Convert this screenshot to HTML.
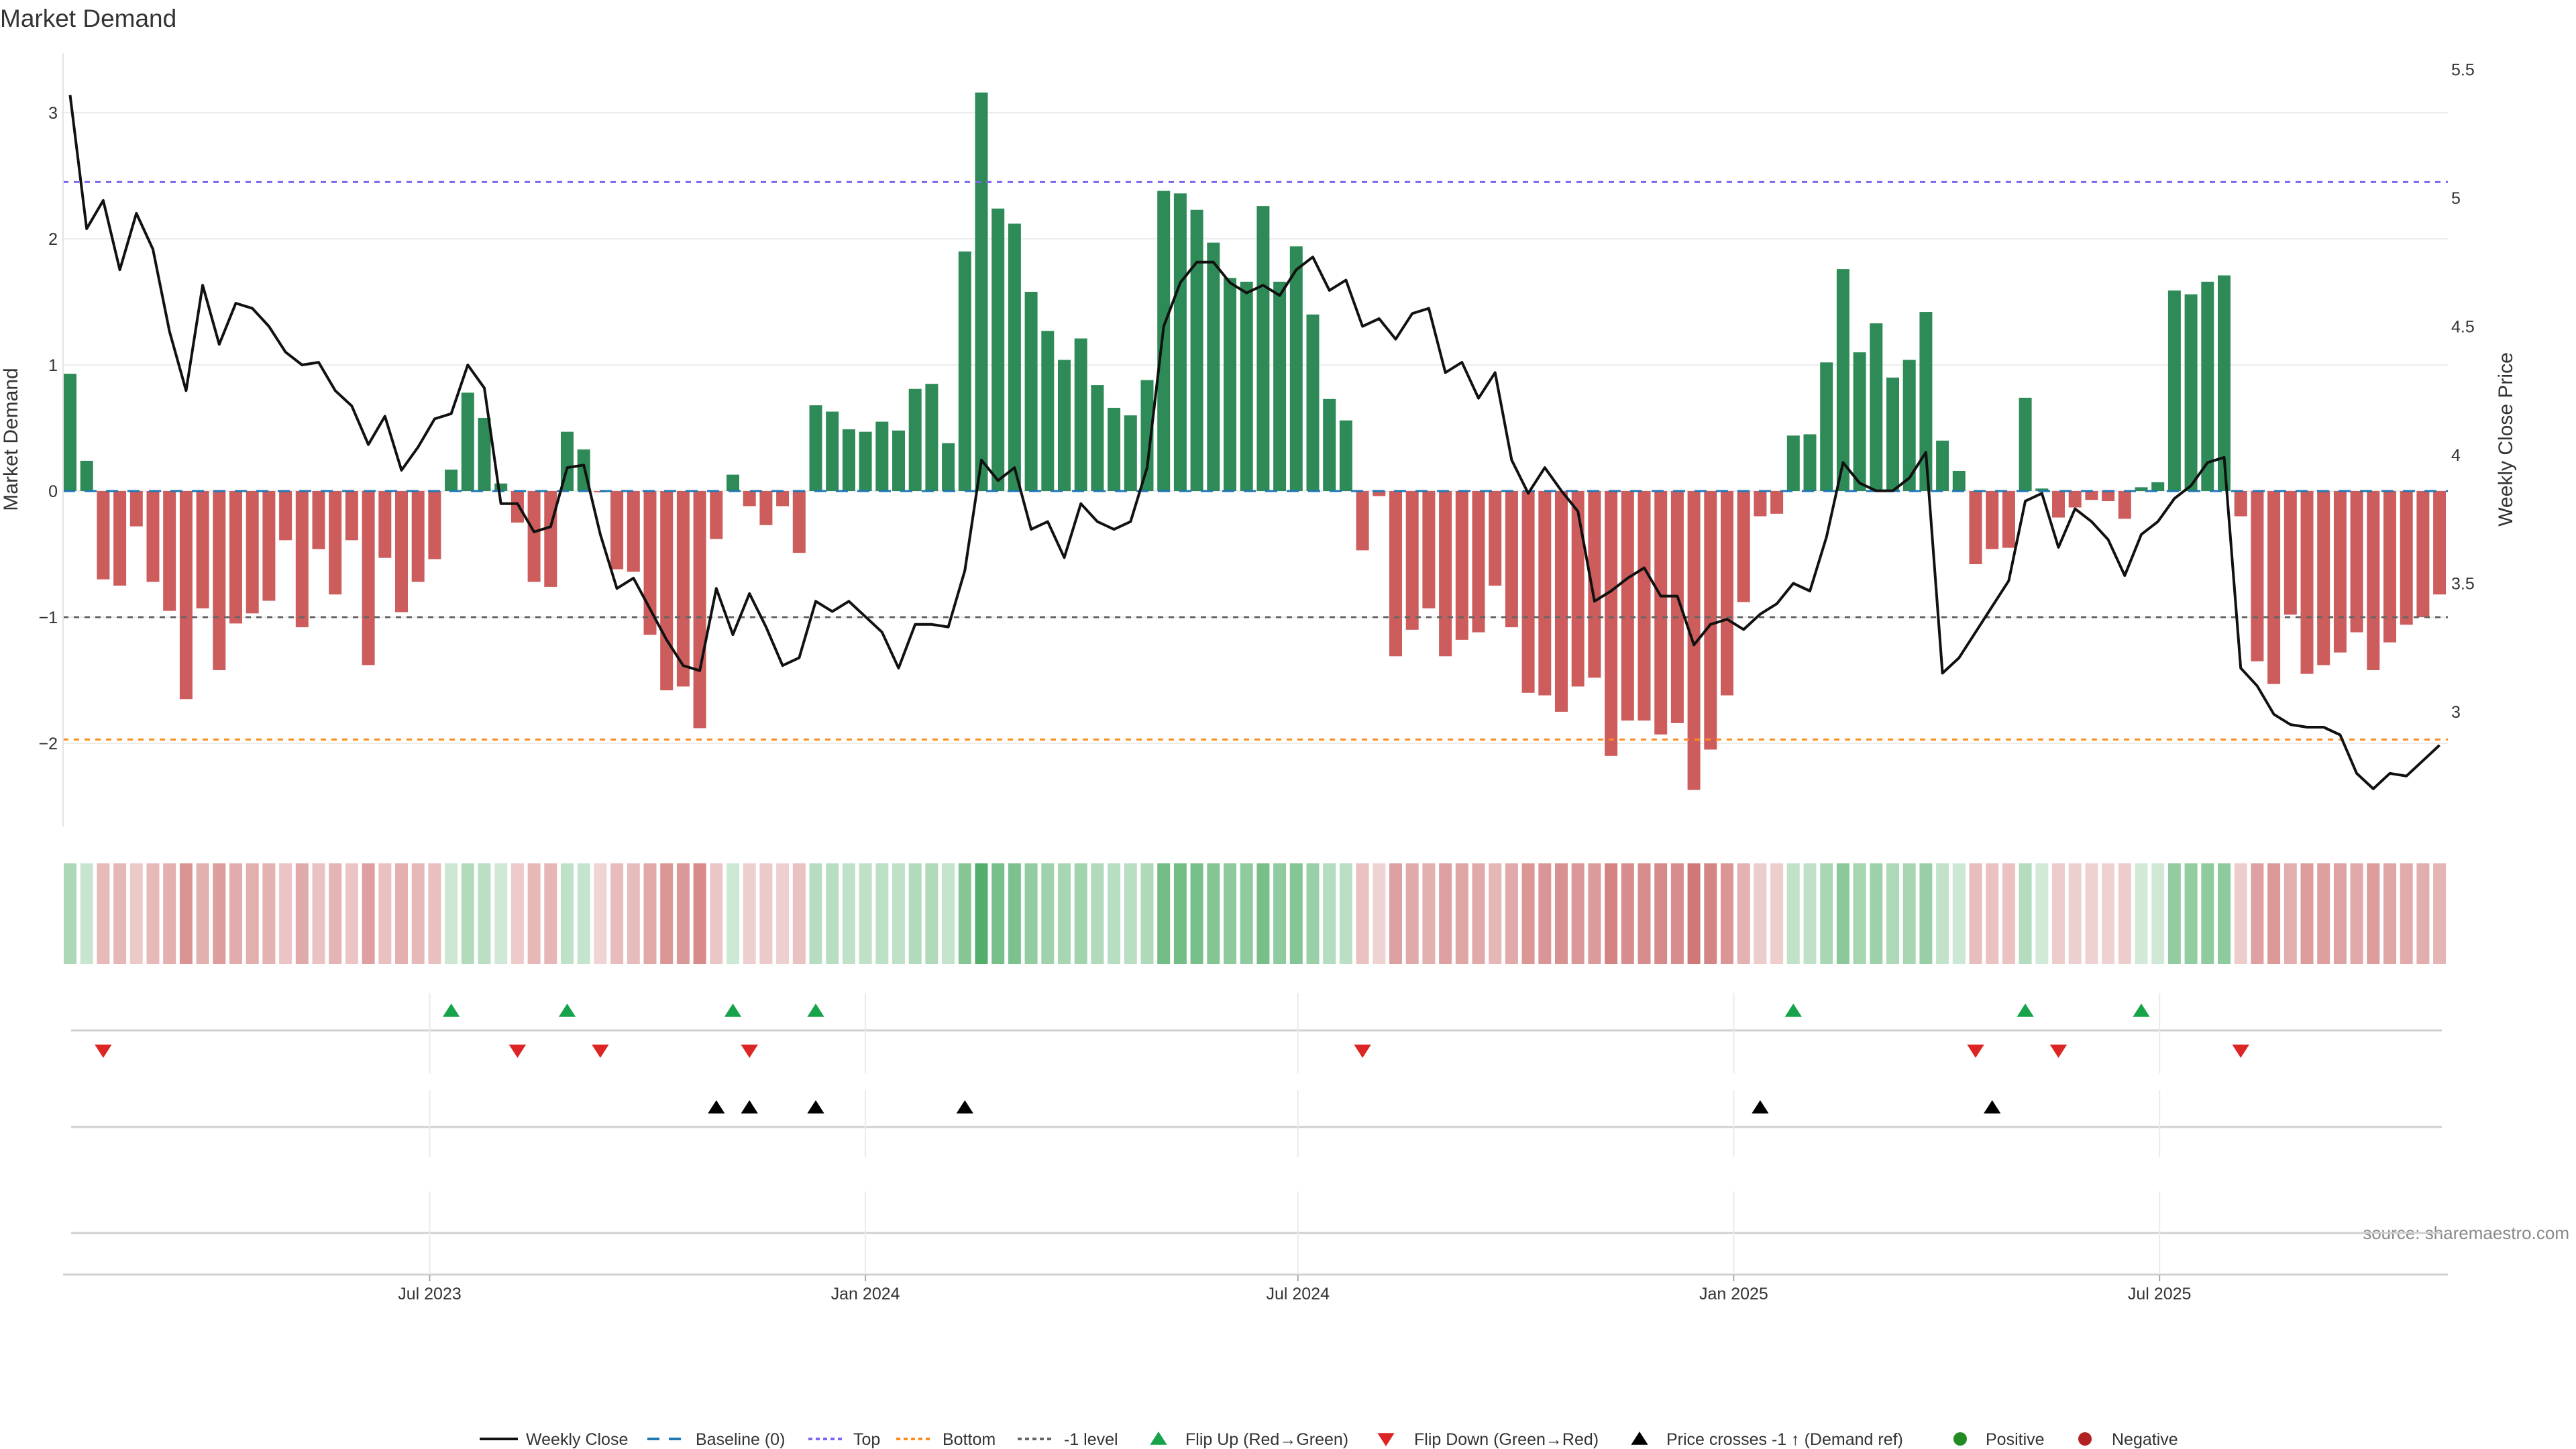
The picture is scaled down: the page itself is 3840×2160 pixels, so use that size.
<!DOCTYPE html>
<html><head><meta charset="utf-8"><style>
html,body{margin:0;padding:0;background:#fff;}
svg{display:block;font-family:"Liberation Sans","DejaVu Sans",sans-serif;}
</style></head><body>
<svg id="chart" width="3840" height="2160" viewBox="0 0 3840 2160" xmlns="http://www.w3.org/2000/svg">
<text x="0" y="40" font-size="37" fill="#333">Market Demand</text>
<text transform="translate(26,655) rotate(-90)" text-anchor="middle" font-size="30" fill="#333">Market Demand</text>
<text transform="translate(3745,655) rotate(-90)" text-anchor="middle" font-size="30" fill="#333">Weekly Close Price</text>
<text x="3830" y="1847" text-anchor="end" font-size="26" fill="#888">source: sharemaestro.com</text>
<g id="grid"></g><g id="bars"></g><g id="refs"></g><g id="line"></g><g id="heat"></g><g id="markers"></g><g id="axes"></g><g id="legend"></g>
</svg>
<script>
const demand=[0.93,0.24,-0.7,-0.75,-0.28,-0.72,-0.95,-1.65,-0.93,-1.42,-1.05,-0.97,-0.87,-0.39,-1.08,-0.46,-0.82,-0.39,-1.38,-0.53,-0.96,-0.72,-0.54,0.17,0.78,0.58,0.06,-0.25,-0.72,-0.76,0.47,0.33,-0.01,-0.62,-0.64,-1.14,-1.58,-1.55,-1.88,-0.38,0.13,-0.12,-0.27,-0.12,-0.49,0.68,0.63,0.49,0.47,0.55,0.48,0.81,0.85,0.38,1.9,3.16,2.24,2.12,1.58,1.27,1.04,1.21,0.84,0.66,0.6,0.88,2.38,2.36,2.23,1.97,1.69,1.66,2.26,1.66,1.94,1.4,0.73,0.56,-0.47,-0.04,-1.31,-1.1,-0.93,-1.31,-1.18,-1.12,-0.75,-1.08,-1.6,-1.62,-1.75,-1.55,-1.48,-2.1,-1.82,-1.82,-1.93,-1.84,-2.37,-2.05,-1.62,-0.88,-0.2,-0.18,0.44,0.45,1.02,1.76,1.1,1.33,0.9,1.04,1.42,0.4,0.16,-0.58,-0.46,-0.45,0.74,0.02,-0.21,-0.13,-0.07,-0.08,-0.22,0.03,0.07,1.59,1.56,1.66,1.71,-0.2,-1.35,-1.53,-0.98,-1.45,-1.38,-1.28,-1.12,-1.42,-1.2,-1.06,-1.0,-0.82];
const price=[5.40,4.88,4.99,4.72,4.94,4.80,4.48,4.25,4.66,4.43,4.59,4.57,4.50,4.40,4.35,4.36,4.25,4.19,4.04,4.15,3.94,4.03,4.14,4.16,4.35,4.26,3.81,3.81,3.70,3.72,3.95,3.96,3.69,3.48,3.52,3.40,3.28,3.18,3.16,3.48,3.30,3.46,3.33,3.18,3.21,3.43,3.39,3.43,3.37,3.31,3.17,3.34,3.34,3.33,3.55,3.98,3.90,3.95,3.71,3.74,3.60,3.81,3.74,3.71,3.74,3.95,4.50,4.67,4.75,4.75,4.67,4.63,4.66,4.62,4.72,4.77,4.64,4.68,4.50,4.53,4.45,4.55,4.57,4.32,4.36,4.22,4.32,3.98,3.85,3.95,3.86,3.78,3.43,3.47,3.52,3.56,3.45,3.45,3.26,3.34,3.36,3.32,3.38,3.42,3.50,3.47,3.68,3.97,3.89,3.86,3.86,3.91,4.01,3.15,3.21,3.31,3.41,3.51,3.82,3.85,3.64,3.79,3.74,3.67,3.53,3.69,3.74,3.83,3.88,3.97,3.99,3.17,3.10,2.99,2.95,2.94,2.94,2.91,2.76,2.70,2.76,2.75,2.81,2.87];
const flipUpIdx=[23,30,40,45,104,118,125];
const flipDownIdx=[2,27,32,41,78,115,120,131];
const crossIdx=[39,41,45,54,102,116];
const yTicks=[3,2,1,0,-1,-2];
const y2Ticks=[5.5,5,4.5,4,3.5,3];
const xTickPos=[21.7,48.0,74.1,100.4,126.1];
const xTickLabels=["Jul 2023","Jan 2024","Jul 2024","Jan 2025","Jul 2025"];
const topLevel=2.45, bottomLevel=-1.97, minusLevel=-1;

const NS="http://www.w3.org/2000/svg";
function mk(parent,tag,attrs,text){const e=document.createElementNS(NS,tag);for(const k in attrs)e.setAttribute(k,attrs[k]);if(text!==undefined)e.textContent=text;parent.appendChild(e);return e;}
const X0=104.5, PITCH=24.7, BW=19;
const xs=i=>X0+i*PITCH;
const ys=v=>732-v*188;
const y2s=p=>678-(p-4)*383;
const L=94,R=3649,T=79,B=1232;
const g=id=>document.getElementById(id);

// grid
yTicks.forEach(t=>{
 const l=mk(g('grid'),'line',{x1:L,x2:R,y1:ys(t),y2:ys(t),stroke:'#ececec','stroke-width':2});
 
 
 const tx=mk(g('axes'),'text',{x:86,y:ys(t)+9,'text-anchor':'end','font-size':25,fill:'#333'},t<0?'\u2212'+Math.abs(t):String(t));
 
 
});
y2Ticks.forEach(t=>{
 const tx=mk(g('axes'),'text',{x:3654,y:y2s(t)+9,'font-size':25,fill:'#333'},String(t));
 
 
});
const ax=mk(g('axes'),'line',{x1:L,x2:L,y1:T,y2:B,stroke:'#e4e4e4','stroke-width':2});



// bars
demand.forEach((v,i)=>{
 const y0=ys(0),y1=ys(v);
 const r=mk(g('bars'),'rect',{x:xs(i)-BW/2,y:Math.min(y0,y1),width:BW,height:Math.max(1,Math.abs(y1-y0)),fill:v>=0?'#2e8b57':'#cd5c5c'});
 
 
});
// reference lines
[[0,'#1f77b4','18 14',3,'baseline-line'],[topLevel,'#7b68ee','8 8',3,'top-line'],[bottomLevel,'#ff8c1a','8 8',3,'bottom-line'],[minusLevel,'#666','8 8',3,'minus-one-line']].forEach(a=>{
 const l=mk(g('refs'),'line',{x1:L,x2:R,y1:ys(a[0]),y2:ys(a[0]),stroke:a[1],'stroke-dasharray':a[2],'stroke-width':a[3]});
 
 
});
// price line
const pts=price.map((p,i)=>xs(i).toFixed(1)+','+y2s(p).toFixed(1)).join(' ');
const pl=mk(g('line'),'polyline',{points:pts,fill:'none',stroke:'#111','stroke-width':4,'stroke-linejoin':'round'});



// heat strip
demand.forEach((v,i)=>{
 const a=Math.min(0.85,0.2+0.18*Math.abs(v));
 const c=v>=0?`rgba(30,150,60,${a})`:`rgba(180,40,40,${a})`;
 const r=mk(g('heat'),'rect',{x:xs(i)-BW/2,y:1287,width:BW,height:150,fill:c});
 
 
});

// marker panels grid
[1536,1680,1838].forEach(y=>{
 const l=mk(g('markers'),'line',{x1:106,x2:3640,y1:y,y2:y,stroke:'#d0d0d0','stroke-width':3});
 
 
});
const axl=mk(g('markers'),'line',{x1:L,x2:R,y1:1900,y2:1900,stroke:'#d0d0d0','stroke-width':3});


xTickPos.forEach((p,k)=>{
 const x=xs(p);
 [[1480,1600],[1625,1725],[1776,1900]].forEach(s=>{
  const l=mk(g('markers'),'line',{x1:x,x2:x,y1:s[0],y2:s[1],stroke:'#eaeaea','stroke-width':2});
  
  
 });
 const tk=mk(g('markers'),'line',{x1:x,x2:x,y1:1900,y2:1910,stroke:'#aaa','stroke-width':2});
 
 
 const t=mk(g('markers'),'text',{x:x,y:1937,'text-anchor':'middle','font-size':25,fill:'#333'},xTickLabels[k]);
 
 
});
function tri(parent,x,y,up,col,s){
 const d=up?`M${x},${y-s} L${x+s*1.15},${y+s*0.8} L${x-s*1.15},${y+s*0.8} Z`:`M${x},${y+s} L${x+s*1.15},${y-s*0.8} L${x-s*1.15},${y-s*0.8} Z`;
 return mk(parent,'path',{d:d,fill:col});
}
flipUpIdx.forEach(i=>{const m=tri(g('markers'),xs(i),1507,true,'#16a34a',11);
 
 });
flipDownIdx.forEach(i=>{const m=tri(g('markers'),xs(i),1566,false,'#dc2626',11);
 
 });
crossIdx.forEach(i=>{const m=tri(g('markers'),xs(i),1651,true,'#000',11);
 
 });

// legend
const LY=2145, lg=g('legend');
function ltext(x,t,name){const e=mk(lg,'text',{x:x,y:LY+9,'font-size':25,fill:'#333'},t);
 
 }
mk(lg,'line',{x1:715,x2:772,y1:LY,y2:LY,stroke:'#111','stroke-width':4});
ltext(784,'Weekly Close','legend-weekly-close');
mk(lg,'line',{x1:965,x2:1015,y1:LY,y2:LY,stroke:'#1f77b4','stroke-width':4,'stroke-dasharray':'18 14'});
ltext(1037,'Baseline (0)','legend-baseline');
mk(lg,'line',{x1:1205,x2:1255,y1:LY,y2:LY,stroke:'#7b68ee','stroke-width':4,'stroke-dasharray':'6 5'});
ltext(1272,'Top','legend-top');
mk(lg,'line',{x1:1336,x2:1386,y1:LY,y2:LY,stroke:'#ff8c1a','stroke-width':4,'stroke-dasharray':'6 5'});
ltext(1405,'Bottom','legend-bottom');
mk(lg,'line',{x1:1517,x2:1567,y1:LY,y2:LY,stroke:'#666','stroke-width':4,'stroke-dasharray':'6 5'});
ltext(1586,'-1 level','legend-minus-one');
tri(lg,1727,LY,true,'#16a34a',11);
ltext(1767,'Flip Up (Red\u2192Green)','legend-flip-up');
tri(lg,2066,LY,false,'#dc2626',11);
ltext(2108,'Flip Down (Green\u2192Red)','legend-flip-down');
tri(lg,2444,LY,true,'#000',11);
ltext(2484,'Price crosses -1 \u2191 (Demand ref)','legend-price-cross');
mk(lg,'circle',{cx:2922,cy:LY,r:10,fill:'#228b22'});
ltext(2960,'Positive','legend-positive');
mk(lg,'circle',{cx:3108,cy:LY,r:10,fill:'#b22222'});
ltext(3148,'Negative','legend-negative');
</script>
</body></html>
